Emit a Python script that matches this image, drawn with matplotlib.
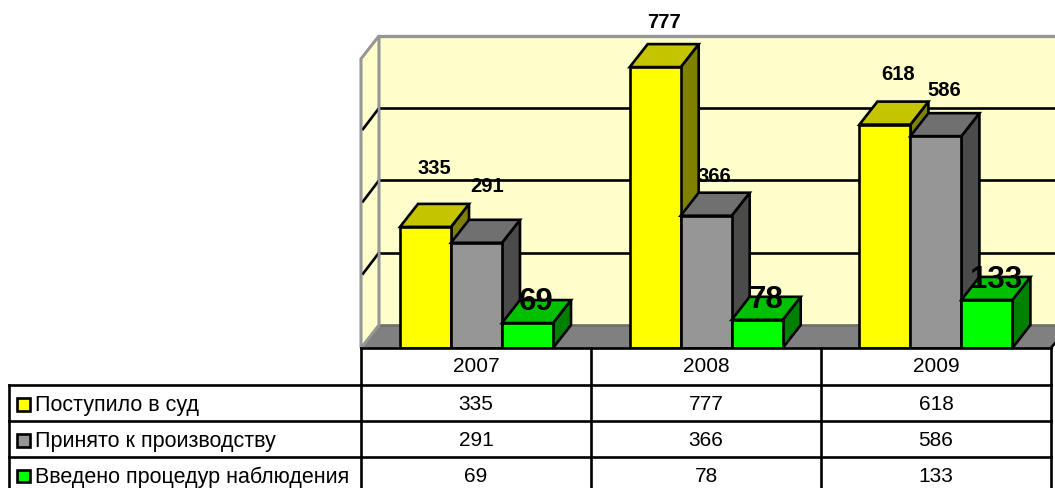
import matplotlib
matplotlib.use("Agg")
import matplotlib.pyplot as plt
from matplotlib.patches import Polygon, Rectangle

years = ["2007", "2008", "2009"]
series_names = ["Поступило в суд", "Принято к производству", "Введено процедур наблюдения"]
received = [335, 777, 618]
accepted = [291, 366, 586]
observed = [69, 78, 133]
series = [received, accepted, observed]
grid_values = [0, 200, 400, 600, 800]

plt.rcParams['font.family'] = ['Liberation Sans', 'DejaVu Sans']
fig = plt.figure(figsize=(10.55, 4.88), dpi=100)
ax = fig.add_axes([0, 0, 1, 1])
ax.set_xlim(0, 1055)
ax.set_ylim(488, 0)
ax.axis('off')

LW = 1.9
BASE, PX = 348, 0.3615
DX, DY = 18, -23
WALL_L, WALL_R = 361, 1055
TOP = BASE + DY - PX * 800
y_of = lambda v: BASE - v * PX

fronts = ['#FFFF00', '#969696', '#00FF00']
tops = ['#C4C400', '#707070', '#00C000']
sides = ['#808000', '#4B4B4B', '#008000']

# walls and floor
wall = '#FFFFCC'
edge = '#969696'
ax.add_patch(Rectangle((WALL_L + DX, TOP), WALL_R, BASE + DY - TOP, fc=wall, ec='none', zorder=1))
ax.add_patch(Polygon([(WALL_L, BASE), (WALL_L + DX, BASE + DY), (WALL_L + DX, TOP), (WALL_L, TOP - DY)],
                     fc=wall, ec=edge, lw=LW, zorder=3))
ax.add_patch(Polygon([(WALL_L, BASE), (WALL_L + DX, BASE + DY), (1060, BASE + DY), (1060, BASE)],
                     fc='#808080', ec='none', zorder=2))
ax.plot([WALL_L + DX, 1060], [BASE + DY] * 2, color='#6E6E6E', lw=LW, zorder=2.5)
ax.plot([WALL_L + DX, 1060], [TOP, TOP], color=edge, lw=2.4, zorder=3)
for g in grid_values[1:-1]:
    y = BASE + DY - g * PX
    ax.plot([WALL_L + DX, 1060], [y, y], color='black', lw=LW, zorder=2)
    ax.plot([WALL_L + 2, WALL_L + DX], [y - DY - 2, y], color='black', lw=LW, zorder=4)
ax.add_patch(Polygon([(WALL_L, BASE), (WALL_L + DX, BASE + DY), (WALL_L + DX, TOP), (WALL_L, TOP - DY)],
                     fc='none', ec=edge, lw=LW, zorder=4))

# bars
X0, STEP, W = 400, 229.7, 51
z = 5
for i in range(len(years)):
    for j, vals in enumerate(series):
        x = X0 + i * STEP + j * W
        yt = y_of(vals[i])
        ax.add_patch(Polygon([(x + W, BASE), (x + W + DX, BASE + DY), (x + W + DX, yt + DY), (x + W, yt)],
                             fc=sides[j], ec='black', lw=LW, joinstyle='miter', zorder=z))
        ax.add_patch(Polygon([(x, yt), (x + DX, yt + DY), (x + W + DX, yt + DY), (x + W, yt)],
                             fc=tops[j], ec='black', lw=LW, joinstyle='miter', zorder=z))
        ax.bar(x, yt - BASE, W, bottom=BASE, align='edge', color=fronts[j], edgecolor='black', lw=LW, zorder=z + 0.1)
        z += 1

# data labels
small = dict(fontsize=14.5, fontweight='bold', ha='center', va='center', zorder=50)
big = dict(fontsize=22.5, fontweight='bold', ha='center', va='center', zorder=50)
label_pos = [[(434.5, 169), (487.5, 187), (536, 302.5)],
             [(664.5, 22.5), (714.5, 177), (766, 299.5)],
             [(898.5, 75), (944.5, 91), (996, 280.5)]]
for i in range(len(years)):
    for j, vals in enumerate(series):
        lx, ly = label_pos[i][j]
        ax.text(lx, ly, str(vals[i]), **(big if j == 2 else small))

# table
COLS = [361, 591, 821, 1051]
ROWS = [348, 385, 421, 457, 492]
LEFT = 9
tk = dict(color='black', lw=LW, zorder=60, solid_capstyle='projecting')
ax.add_patch(Rectangle((COLS[0], ROWS[0]), COLS[-1] - COLS[0], 140, fc='white', ec='none', zorder=40))
ax.add_patch(Polygon([(COLS[-1], ROWS[0]), (1056, ROWS[0] - 6), (1056, 488), (COLS[-1], 488)], fc='white', ec='none', zorder=40))
ax.plot([COLS[0], COLS[-1]], [BASE, BASE], **tk)
ax.plot([COLS[-1], 1056], [BASE, BASE - 6], **tk)
for c in COLS:
    ax.plot([c, c], [ROWS[0], 488], **tk)
for r in ROWS[1:4]:
    ax.plot([LEFT, COLS[-1]], [r, r], **tk)
ax.plot([LEFT, LEFT], [ROWS[1], 488], **tk)

cell = dict(fontsize=15, ha='center', va='center', zorder=61)
for i, yr in enumerate(years):
    cx = (COLS[i] + COLS[i + 1]) / 2
    ax.text(cx, (ROWS[0] + ROWS[1]) / 2 + 0.5, yr, **cell)
    for j, vals in enumerate(series):
        ax.text(cx, (ROWS[j + 1] + ROWS[j + 2]) / 2 + 1 + j * 0.5, str(vals[i]), **cell)
for j, name in enumerate(series_names):
    cy = (ROWS[j + 1] + ROWS[j + 2]) / 2
    ax.add_patch(Rectangle((17, cy - 5), 12.5, 12.5, fc=fronts[j], ec='black', lw=LW, zorder=61))
    ax.text(35, cy + 2 + j * 0.5, name, fontsize=15.5, ha='left', va='center', zorder=61)

fig.savefig('out.png', dpi=100)
